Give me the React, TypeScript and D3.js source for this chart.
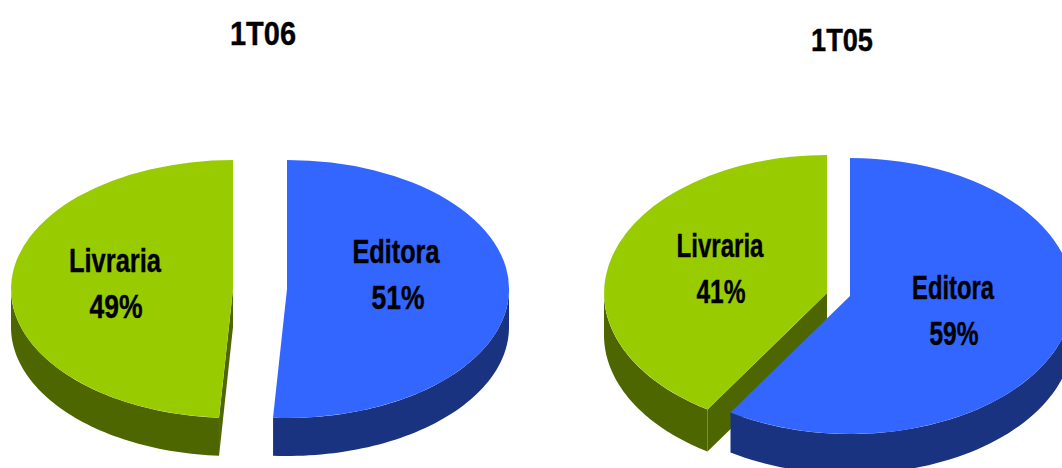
import * as d3 from "d3";

// Values
const categories = ["Editora", "Livraria"];
const values1T06 = [51, 49];
const values1T05 = [59, 41];
const periods = ["1T06", "1T05"];

const fills: Record<string, string> = { Editora: "#3366ff", Livraria: "#99cc00" };
const walls: Record<string, string> = { Editora: "#1a3380", Livraria: "#4d6600" };

const FONT = "'Liberation Sans', Arial, sans-serif";

// Each slice is exploded on its own, so every slice has its own centre
const pies = [
  {
    title: periods[0],
    values: values1T06,
    titlePos: { x: 263, y: 45, w: 66, size: 34 },
    rx: 222,
    ry: 129,
    depth: { Editora: 38, Livraria: 38 } as Record<string, number>,
    centers: { Editora: [287, 289], Livraria: [233, 289] } as Record<string, number[]>,
    labels: {
      Editora: { x: 396, y: 263, w: 87, px: 398, pw: 53 },
      Livraria: { x: 115, y: 272, w: 92, px: 116, pw: 53 },
    } as Record<string, { x: number; y: number; w: number; px: number; pw: number }>,
  },
  {
    title: periods[1],
    values: values1T05,
    titlePos: { x: 842, y: 51, w: 62, size: 32 },
    rx: 223,
    ry: 138,
    depth: { Editora: 40, Livraria: 42 } as Record<string, number>,
    centers: { Editora: [850, 296], Livraria: [827, 293] } as Record<string, number[]>,
    labels: {
      Editora: { x: 953, y: 299, w: 82, px: 954, pw: 49 },
      Livraria: { x: 720, y: 257, w: 87, px: 721, pw: 49 },
    } as Record<string, { x: number; y: number; w: number; px: number; pw: number }>,
  },
];

const pieLayout = d3
  .pie<number>()
  .sort(null)
  .value((d) => d);

const unitArc = d3.arc<d3.PieArcDatum<number>>().innerRadius(0).outerRadius(1);

function SlicePie({ pie }: { pie: (typeof pies)[number] }) {
  const slices = pieLayout(pie.values);
  const { rx, ry } = pie;

  // Livraria goes first: the blue slice sits in front of its cut face
  const order = slices.map((s, i) => ({ s, name: categories[i] })).reverse();

  return (
    <g>
      {order.map(({ s, name }) => {
        const [cx, cy] = pie.centers[name];
        const depth = pie.depth[name];
        const rim = (a: number): [number, number] => [Math.sin(a) * rx, -Math.cos(a) * ry];

        // Outer wall: the part of the rim on the lower half of the ellipse
        const a0 = Math.max(s.startAngle, Math.PI / 2);
        const a1 = Math.min(s.endAngle, (3 * Math.PI) / 2);
        const angles = d3.range(0, 61).map((k) => a0 + ((a1 - a0) * k) / 60);
        const top = angles.map(rim);
        const bottom = top.map(([x, y]) => [x, y + depth] as [number, number]).reverse();
        const wallPath = d3.line()([...top, ...bottom]) + "Z";

        // Cut face: only the slice that ends on the lower left shows it
        const cut = s.startAngle > 0 ? rim(s.startAngle) : null;
        const cutPath = cut
          ? d3.line()([[0, 0], cut, [cut[0], cut[1] + depth], [0, depth]]) + "Z"
          : null;

        return (
          <g key={name} transform={`translate(${cx},${cy})`}>
            {cutPath && <path d={cutPath} fill={walls[name]} />}
            <path d={wallPath} fill={walls[name]} />
            <g transform={`scale(${rx},${ry})`}>
              <path d={unitArc(s) || ""} fill={fills[name]} />
            </g>
          </g>
        );
      })}
      {categories.map((name, i) => {
        const l = pie.labels[name];
        return (
          <g
            key={name}
            fontFamily={FONT}
            fontWeight="bold"
            fontSize={33}
            textAnchor="middle"
            fill="#000"
            stroke="#000"
            strokeWidth={0.4}
          >
            <text x={l.x} y={l.y} textLength={l.w} lengthAdjust="spacingAndGlyphs">
              {name}
            </text>
            <text x={l.px} y={l.y + 46} textLength={l.pw} lengthAdjust="spacingAndGlyphs">
              {`${pie.values[i]}%`}
            </text>
          </g>
        );
      })}
      <text
        x={pie.titlePos.x}
        y={pie.titlePos.y}
        fontFamily={FONT}
        fontWeight="bold"
        fontSize={pie.titlePos.size}
        textAnchor="middle"
        textLength={pie.titlePos.w}
        lengthAdjust="spacingAndGlyphs"
        fill="#000"
        stroke="#000"
        strokeWidth={0.4}
      >
        {pie.title}
      </text>
    </g>
  );
}

export default function App() {
  return (
    <svg
      width={1062}
      height={468}
      style={{ position: "absolute", left: 0, top: 0, background: "#fff" }}
    >
      {pies.map((p) => (
        <SlicePie key={p.title} pie={p} />
      ))}
    </svg>
  );
}
